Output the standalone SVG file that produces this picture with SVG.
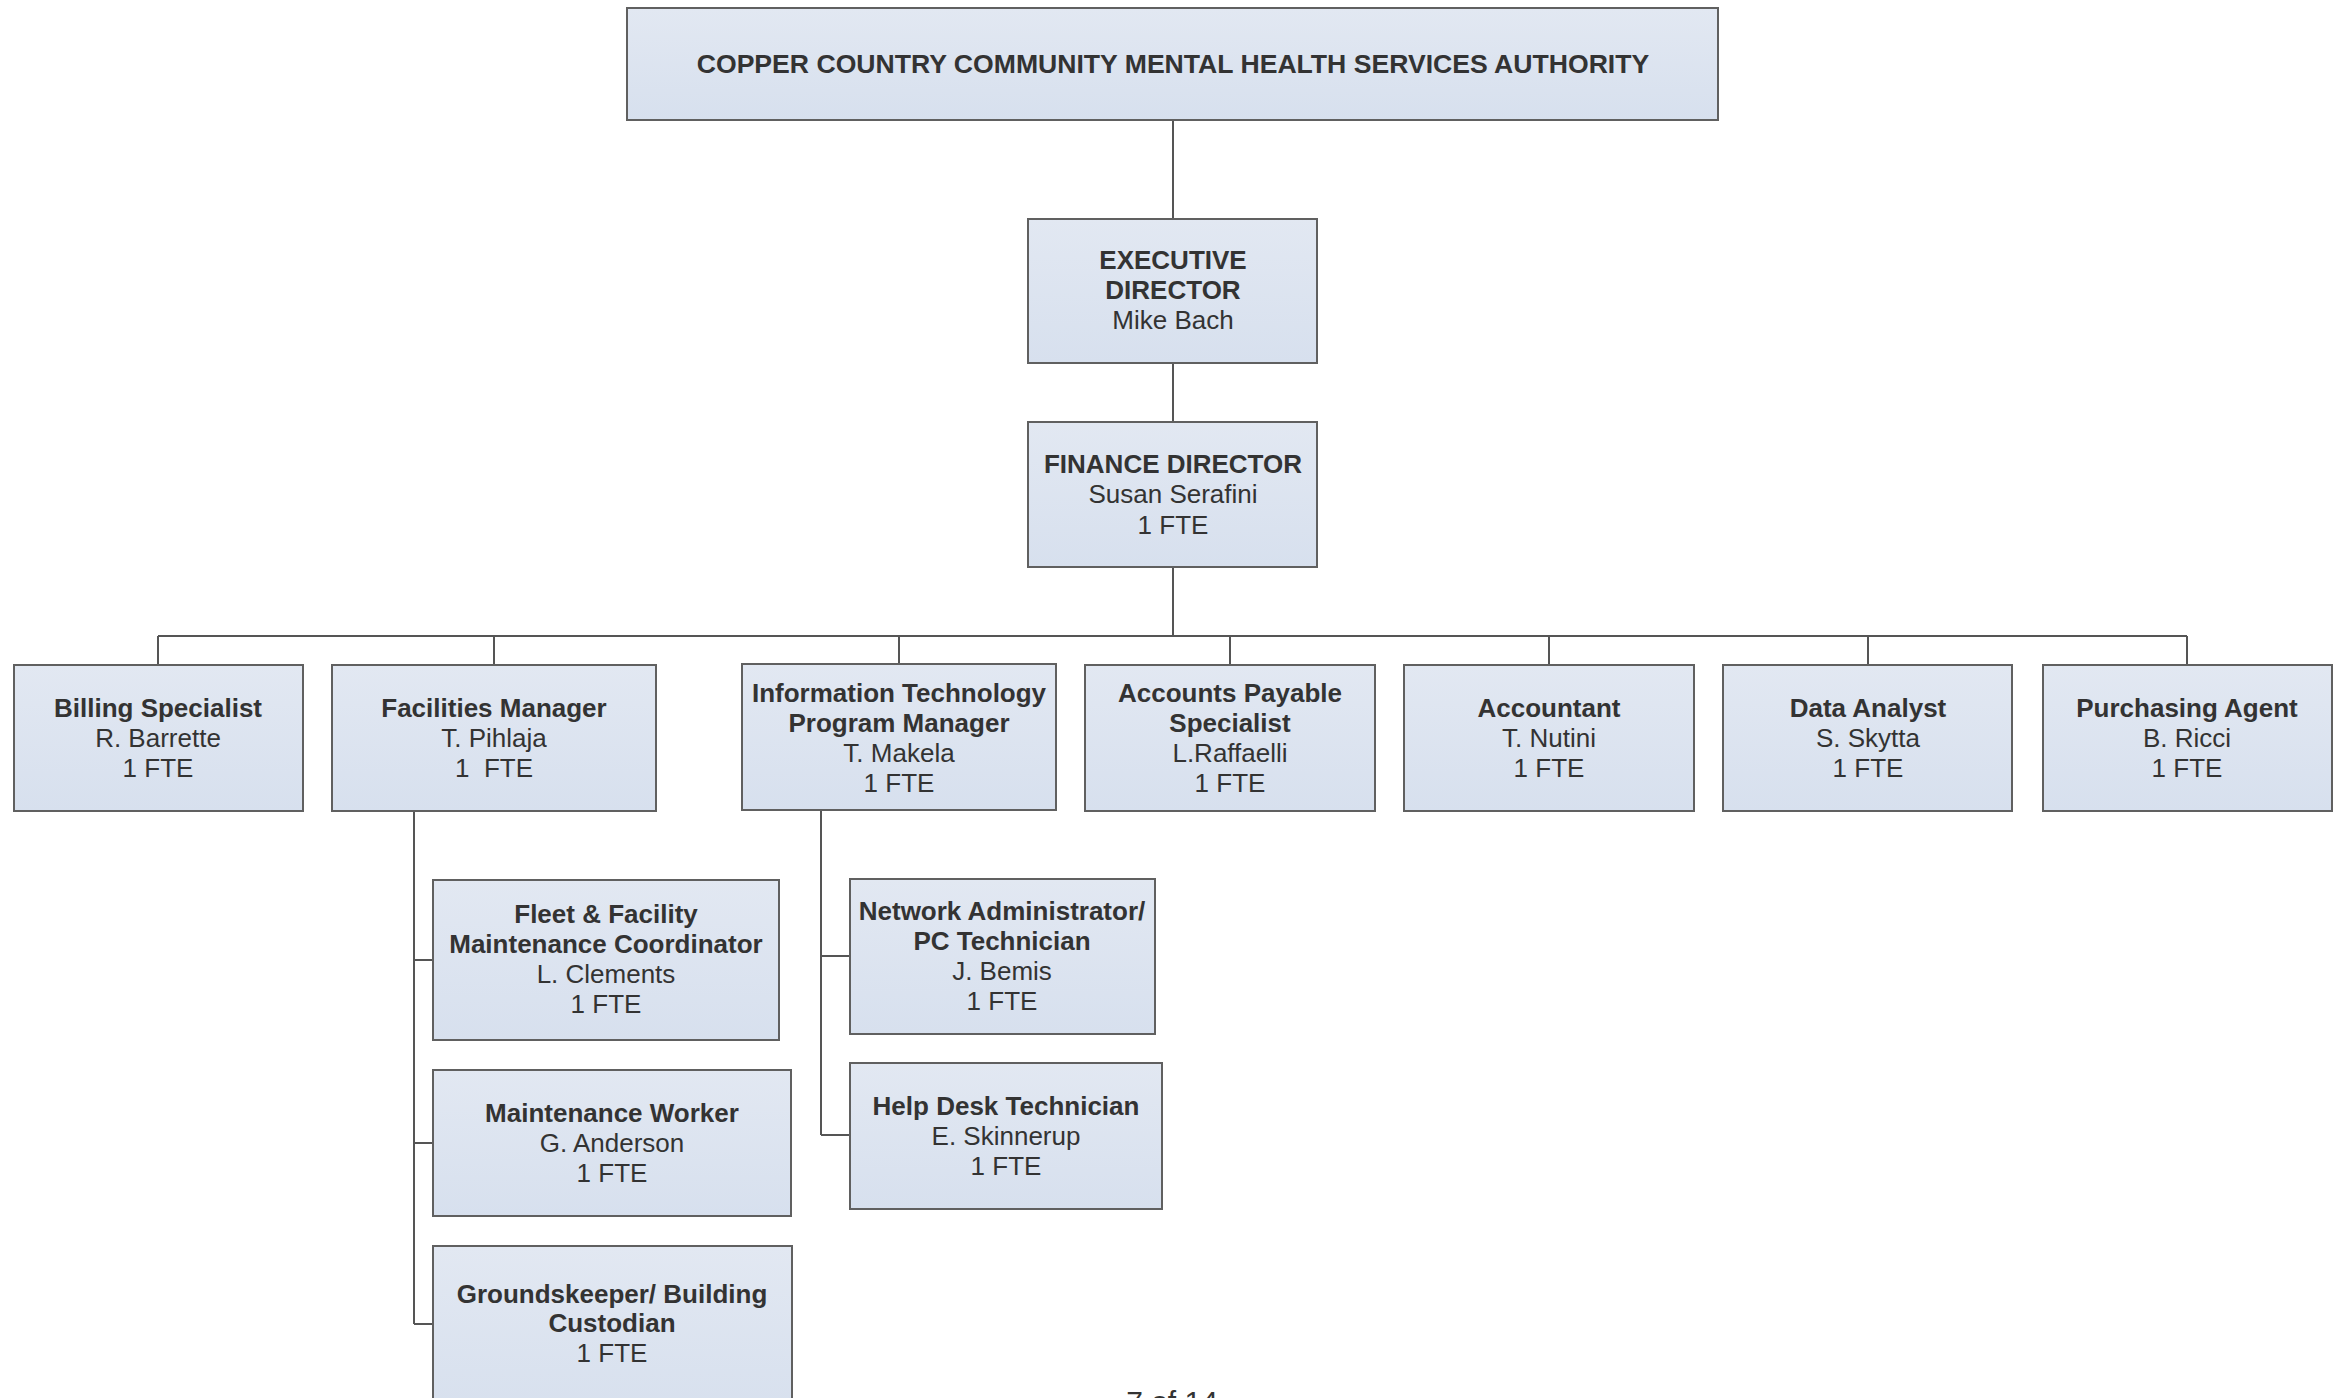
<svg xmlns="http://www.w3.org/2000/svg" width="2343" height="1398" viewBox="0 0 2343 1398">
<defs>
<linearGradient id="g" x1="0" y1="0" x2="0" y2="1">
<stop offset="0" stop-color="#e2e8f2"/>
<stop offset="1" stop-color="#d7e0ee"/>
</linearGradient>
<style>
.box{fill:url(#g);stroke:#606060;stroke-width:2}
.c{fill:none;stroke:#555;stroke-width:2}
text{font-family:"Liberation Sans",Arial,sans-serif;font-size:26px;fill:#333;text-anchor:middle;white-space:pre}
.b{font-weight:bold}
</style>
</defs>
<rect width="2343" height="1398" fill="#fff"/>
<g id="connectors">
<path class="c" d="M1173 121V219M1173 363V422M1173 567V636M158 636H2187M158 636V665M494 636V665M899 636V664M1230 636V665M1549 636V665M1868 636V665M2187 636V665"/>
<path class="c" d="M414 811V1324M414 960H433M414 1143H433M414 1324H433"/>
<path class="c" d="M821 810V1135M821 956H850M821 1135H850"/>
</g>
<g id="n-authority"><rect class="box" x="627" y="8" width="1091" height="112"/><text class="b" x="1173" y="73" style="font-size:26.6px">COPPER COUNTRY COMMUNITY MENTAL HEALTH SERVICES AUTHORITY</text></g>
<g id="n-exec"><rect class="box" x="1028" y="219" width="289" height="144"/><text class="b" x="1173" y="269">EXECUTIVE</text><text class="b" x="1173" y="299">DIRECTOR</text><text x="1173" y="329">Mike Bach</text></g>
<g id="n-finance"><rect class="box" x="1028" y="422" width="289" height="145"/><text class="b" x="1173" y="473">FINANCE DIRECTOR</text><text x="1173" y="503">Susan Serafini</text><text x="1173" y="534">1 FTE</text></g>
<g id="n-billing"><rect class="box" x="14" y="665" width="289" height="146"/><text class="b" x="158" y="717">Billing Specialist</text><text x="158" y="747">R. Barrette</text><text x="158" y="777">1 FTE</text></g>
<g id="n-facilities"><rect class="box" x="332" y="665" width="324" height="146"/><text class="b" x="494" y="717">Facilities Manager</text><text x="494" y="747">T. Pihlaja</text><text x="494" y="777">1  FTE</text></g>
<g id="n-it"><rect class="box" x="742" y="664" width="314" height="146"/><text class="b" x="899" y="702">Information Technology</text><text class="b" x="899" y="732">Program Manager</text><text x="899" y="762">T. Makela</text><text x="899" y="792">1 FTE</text></g>
<g id="n-ap"><rect class="box" x="1085" y="665" width="290" height="146"/><text class="b" x="1230" y="702">Accounts Payable</text><text class="b" x="1230" y="732">Specialist</text><text x="1230" y="762">L.Raffaelli</text><text x="1230" y="792">1 FTE</text></g>
<g id="n-accountant"><rect class="box" x="1404" y="665" width="290" height="146"/><text class="b" x="1549" y="717">Accountant</text><text x="1549" y="747">T. Nutini</text><text x="1549" y="777">1 FTE</text></g>
<g id="n-data"><rect class="box" x="1723" y="665" width="289" height="146"/><text class="b" x="1868" y="717">Data Analyst</text><text x="1868" y="747">S. Skytta</text><text x="1868" y="777">1 FTE</text></g>
<g id="n-purchasing"><rect class="box" x="2043" y="665" width="289" height="146"/><text class="b" x="2187" y="717">Purchasing Agent</text><text x="2187" y="747">B. Ricci</text><text x="2187" y="777">1 FTE</text></g>
<g id="n-fleet"><rect class="box" x="433" y="880" width="346" height="160"/><text class="b" x="606" y="923">Fleet &amp; Facility</text><text class="b" x="606" y="953">Maintenance Coordinator</text><text x="606" y="983">L. Clements</text><text x="606" y="1013">1 FTE</text></g>
<g id="n-maint"><rect class="box" x="433" y="1070" width="358" height="146"/><text class="b" x="612" y="1122">Maintenance Worker</text><text x="612" y="1152">G. Anderson</text><text x="612" y="1182">1 FTE</text></g>
<g id="n-ground"><rect class="box" x="433" y="1246" width="359" height="170"/><text class="b" x="612" y="1303">Groundskeeper/ Building</text><text class="b" x="612" y="1332">Custodian</text><text x="612" y="1362">1 FTE</text></g>
<g id="n-network"><rect class="box" x="850" y="879" width="305" height="155"/><text class="b" x="1002" y="920">Network Administrator/</text><text class="b" x="1002" y="950">PC Technician</text><text x="1002" y="980">J. Bemis</text><text x="1002" y="1010">1 FTE</text></g>
<g id="n-helpdesk"><rect class="box" x="850" y="1063" width="312" height="146"/><text class="b" x="1006" y="1115">Help Desk Technician</text><text x="1006" y="1145">E. Skinnerup</text><text x="1006" y="1175">1 FTE</text></g>
<text x="1172" y="1412" style="font-size:30px">7 of 14</text>
</svg>
